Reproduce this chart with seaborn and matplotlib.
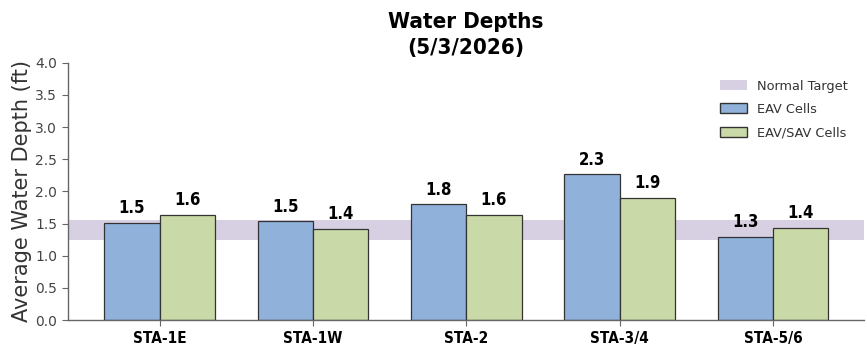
import matplotlib
matplotlib.use("Agg")
import matplotlib.pyplot as plt
import seaborn as sns
import pandas as pd
from matplotlib.patches import Patch

stations = ["STA-1E", "STA-1W", "STA-2", "STA-3/4", "STA-5/6"]
eav = [1.51, 1.54, 1.80, 2.27, 1.30]
eav_sav = [1.64, 1.42, 1.64, 1.90, 1.44]
series_names = ["EAV Cells", "EAV/SAV Cells"]
target_label = "Normal Target"
target_low, target_high = 1.25, 1.55
yticks = [0.0, 0.5, 1.0, 1.5, 2.0, 2.5, 3.0, 3.5, 4.0]

df = pd.DataFrame({
    "Station": stations * 2,
    "Depth": eav + eav_sav,
    "Type": [series_names[0]] * len(stations) + [series_names[1]] * len(stations),
})

sns.set_style("white")
plt.rcParams["font.family"] = ["DejaVu Sans"]
plt.rcParams["text.color"] = "black"

fig, ax = plt.subplots(figsize=(8.67, 3.45), dpi=100)
fig.subplots_adjust(left=0.078, right=0.996, top=0.818, bottom=0.072)

colors = ["#8fb1da", "#c9d9a7"]
band_color = "#d7d0e3"
edge = "#333333"
ax.axhspan(target_low, target_high, color=band_color, zorder=0, lw=0)
sns.barplot(data=df, x="Station", y="Depth", hue="Type", palette=colors,
            saturation=1, width=0.72, edgecolor=edge, linewidth=0.9, ax=ax,
            zorder=2, legend=False)

for cont in ax.containers:
    ax.bar_label(cont, labels=[f"{b.get_height():.1f}" for b in cont],
                 fontsize=12, fontweight="bold", fontstretch="condensed",
                 padding=4, color="black")

ax.set_xlim(-0.6, 4.59)
ax.set_ylim(0, 4.0)
ax.set_yticks(yticks)
ax.set_yticklabels([f"{t:.1f}" for t in yticks], fontsize=10, color="#444444")
ax.set_xlabel("")
ax.set_ylabel("Average Water Depth (ft)", fontsize=15, color="#333333", labelpad=2)
for lbl in ax.get_xticklabels():
    lbl.set_fontweight("bold")
    lbl.set_fontstretch("condensed")
    lbl.set_fontsize(11)
    lbl.set_color("black")
ax.tick_params(axis="both", which="major", length=4, color="#666666",
               left=True, bottom=True)

sns.despine(ax=ax)
for s in ["left", "bottom"]:
    ax.spines[s].set_color("#666666")
    ax.spines[s].set_linewidth(1.0)

ax.set_title("Water Depths\n(5/3/2026)", fontsize=16, fontweight="bold",
             fontstretch="condensed", pad=6, linespacing=1.42, color="black")

handles = [Patch(facecolor=band_color, edgecolor="none", label=target_label),
           Patch(facecolor=colors[0], edgecolor=edge, label=series_names[0]),
           Patch(facecolor=colors[1], edgecolor=edge, label=series_names[1])]
leg = ax.legend(handles=handles, loc="upper right", frameon=False, fontsize=9.3,
                bbox_to_anchor=(0.995, 0.98), labelspacing=0.8,
                handlelength=2.1, handleheight=0.8)
for t in leg.get_texts():
    t.set_color("#333333")

fig.savefig("out.png", dpi=100)
